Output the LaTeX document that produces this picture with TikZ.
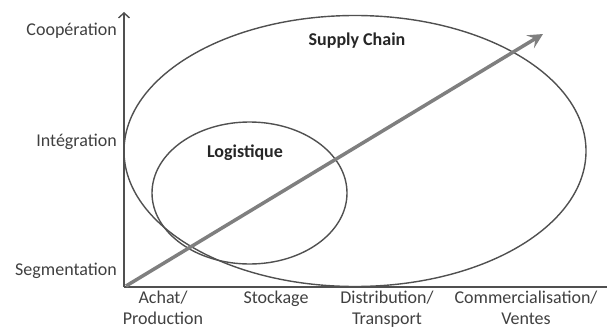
\documentclass[tikz,border=0pt]{standalone}
\usepackage{fontspec}
\setmainfont{Carlito}
\usetikzlibrary{shapes.geometric,arrows.meta}
\definecolor{linegray}{HTML}{505050}
\definecolor{arrowgray}{HTML}{7F7F7F}
\definecolor{txtgray}{HTML}{404040}
\definecolor{boldtxt}{HTML}{262626}
\tikzset{
  lbl/.style={inner sep=0pt, text=txtgray, font=\fontsize{18}{21}\selectfont},
  ylbl/.style={lbl, anchor=east},
  xlbl/.style={lbl, align=center, anchor=north},
  title/.style={inner sep=0pt, text=boldtxt, font=\fontsize{18}{21}\selectfont\bfseries},
  oval/.style={ellipse, draw=linegray, line width=1.4pt, inner sep=0pt},
  axis/.style={draw=linegray, line width=1.4pt},
  growth/.style={draw=arrowgray, line width=3.5pt, -{Stealth[length=15pt,width=15pt,inset=6pt]}}
}
\begin{document}
\begin{tikzpicture}[x=1pt,y=-1pt]
\useasboundingbox (0,0) rectangle (607,329);
\coordinate (O) at (124,287);
\coordinate (ytop) at (124,12);
\coordinate (xend) at (607,287);
\coordinate (dstart) at (126,286);
\coordinate (dtip) at (543,34);
% ellipses
\node[oval, minimum width=462pt, minimum height=271pt] (sc) at (355,151) {};
\node[oval, minimum width=195pt, minimum height=142pt] (log) at (249.5,193) {};
% axes
\draw[axis, -{Straight Barb[length=5pt,width=11pt]}] (O) -- (ytop);
\draw[axis] (O) -- (xend);
% growth arrow
\draw[growth] (dstart) -- (dtip);
% titles
\node[title] (tsc) at (357,41) {Supply Chain};
\node[title] (tlog) at (245,153) {Logistique};
% y labels
\node[ylbl] (coop) at (117,31) {Coopération};
\node[ylbl] (integ) at (117,142) {Intégration};
\node[ylbl] (seg) at (117,271) {Segmentation};
% x labels
\node[xlbl] (achat) at (163,291) {Achat/\\Production};
\node[xlbl] (stock) at (276,291) {Stockage};
\node[xlbl] (distr) at (387,291) {Distribution/\\Transport};
\node[xlbl] (comm) at (526,291) {Commercialisation/\\Ventes};
\end{tikzpicture}
\end{document}
